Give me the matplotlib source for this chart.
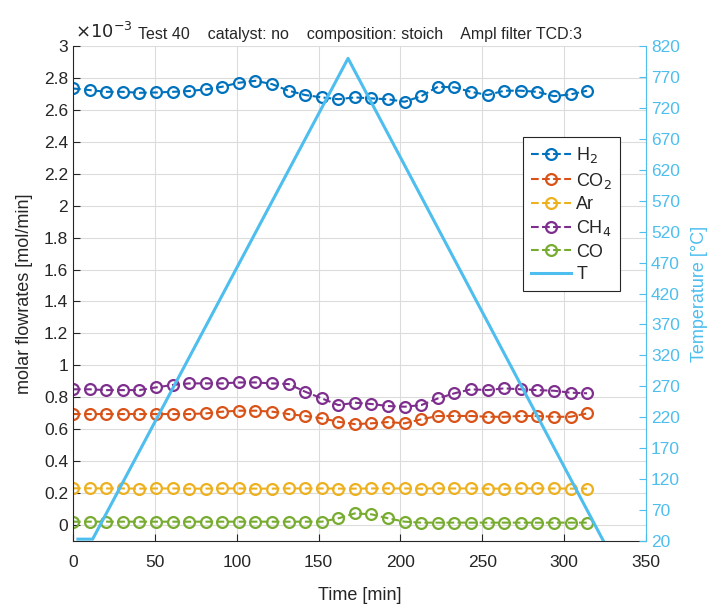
import matplotlib
matplotlib.use('Agg')
import matplotlib.pyplot as plt
from matplotlib.ticker import FuncFormatter, MultipleLocator, FixedLocator

plt.rcParams['font.family'] = ['Liberation Sans', 'DejaVu Sans']

# sampling times [min], about one GC run every 10 min
time_min = [0, 10.1, 20.3, 30.4, 40.5, 50.7, 60.8, 70.9, 81.0, 91.2,
            101.3, 111.4, 121.6, 131.7, 141.8, 152.0, 162.1, 172.2, 182.3, 192.5,
            202.6, 212.7, 222.9, 233.0, 243.1, 253.3, 263.4, 273.5, 283.6, 293.8,
            303.9, 314.0]

# molar flowrates in 1e-3 mol/min
h2 = [2.734, 2.724, 2.713, 2.713, 2.707, 2.709, 2.713, 2.718, 2.728, 2.745,
      2.770, 2.782, 2.761, 2.720, 2.693, 2.678, 2.667, 2.678, 2.672, 2.666,
      2.651, 2.686, 2.745, 2.741, 2.713, 2.693, 2.720, 2.720, 2.713, 2.686,
      2.697, 2.720]
co2 = [0.695, 0.695, 0.695, 0.695, 0.695, 0.695, 0.695, 0.695, 0.699, 0.710,
       0.716, 0.716, 0.710, 0.695, 0.683, 0.668, 0.647, 0.632, 0.637, 0.645,
       0.637, 0.662, 0.683, 0.683, 0.683, 0.678, 0.678, 0.683, 0.683, 0.678,
       0.678, 0.699]
ar = [0.230, 0.230, 0.229, 0.229, 0.228, 0.229, 0.229, 0.228, 0.228, 0.229,
      0.229, 0.228, 0.228, 0.229, 0.229, 0.229, 0.228, 0.228, 0.229, 0.229,
      0.229, 0.228, 0.229, 0.229, 0.229, 0.228, 0.228, 0.229, 0.229, 0.229,
      0.228, 0.228]
ch4 = [0.850, 0.850, 0.845, 0.845, 0.845, 0.862, 0.877, 0.887, 0.887, 0.887,
       0.893, 0.893, 0.887, 0.883, 0.835, 0.793, 0.751, 0.766, 0.758, 0.745,
       0.741, 0.751, 0.793, 0.825, 0.850, 0.845, 0.856, 0.850, 0.845, 0.841,
       0.829, 0.825]
co = [0.021, 0.021, 0.021, 0.021, 0.021, 0.021, 0.021, 0.021, 0.021, 0.021,
      0.021, 0.021, 0.021, 0.021, 0.021, 0.021, 0.042, 0.073, 0.067, 0.042,
      0.021, 0.015, 0.015, 0.015, 0.015, 0.015, 0.015, 0.015, 0.015, 0.015,
      0.015, 0.015]

# oven temperature ramp
temp_time = [3, 12, 168, 324]
temp_C = [23, 23, 800, 20]
temp_ticks = list(range(20, 821, 50))

series = [(h2, 'H$_2$', '#0072BD'),
          (co2, 'CO$_2$', '#D95319'),
          (ar, 'Ar', '#EDB120'),
          (ch4, 'CH$_4$', '#7E2F8E'),
          (co, 'CO', '#77AC30')]
T_COLOR = '#4DBEEE'
TXT = '#262626'

fig = plt.figure(figsize=(7.15, 6.06), dpi=100)
ax = fig.add_axes([73/715, 65/606, 573/715, 495/606])

handles = []
for vals, name, col in series:
    h, = ax.plot(time_min, vals, '--o', color=col, lw=1.5, ms=7.8, mew=1.6,
                 mfc='none', label=name)
    handles.append(h)

ax.set_xlim(0, 350)
ax.set_ylim(-0.1, 3)
ax.xaxis.set_major_locator(MultipleLocator(50))
ax.yaxis.set_major_locator(MultipleLocator(0.2))
ax.yaxis.set_major_formatter(FuncFormatter(lambda v, p: '%g' % round(v, 2)))
ax.grid(True, color='#dcdcdc', lw=0.8)
ax.set_axisbelow(True)
ax.tick_params(direction='in', labelsize=12.5, colors=TXT, length=5)
ax.tick_params(axis='x', pad=10)
ax.spines['top'].set_visible(False)
ax.spines['right'].set_visible(False)
ax.spines['left'].set_color(TXT)
ax.spines['bottom'].set_color(TXT)
ax.set_xlabel('Time [min]', fontsize=13, color=TXT, labelpad=12)
ax.set_ylabel('molar flowrates [mol/min]', fontsize=13, color=TXT, labelpad=8)
ax.text(0.003, 1.008, r'$\times 10^{-3}$', transform=ax.transAxes,
        fontsize=13, color=TXT, ha='left', va='bottom')
ax.set_title('Test 40    catalyst: no    composition: stoich    Ampl filter TCD:3',
             fontsize=11.5, color=TXT, pad=5)

ax2 = ax.twinx()
hT, = ax2.plot(temp_time, temp_C, '-', color=T_COLOR, lw=2.2, label='T')
handles.append(hT)
ax2.set_ylim(20, 820)
ax2.yaxis.set_major_locator(FixedLocator(temp_ticks))
ax2.tick_params(direction='in', labelsize=12.5, colors=T_COLOR, length=5)
for s in ['top', 'left', 'bottom']:
    ax2.spines[s].set_visible(False)
ax2.spines['right'].set_color(T_COLOR)
ax2.set_ylabel('Temperature [°C]', fontsize=13, color=T_COLOR, labelpad=8)

leg = ax2.legend(handles=handles, loc='upper left',
                 bbox_to_anchor=(523/715, 1 - 137/606),
                 bbox_transform=fig.transFigure, borderaxespad=0,
                 fontsize=13, handlelength=2.2, handletextpad=0.3,
                 borderpad=0.45, labelspacing=0.3, fancybox=False,
                 framealpha=1)
leg.get_frame().set_edgecolor(TXT)
leg.get_frame().set_linewidth(0.8)
for t in leg.get_texts():
    t.set_color(TXT)

fig.savefig('out.png', dpi=100)
